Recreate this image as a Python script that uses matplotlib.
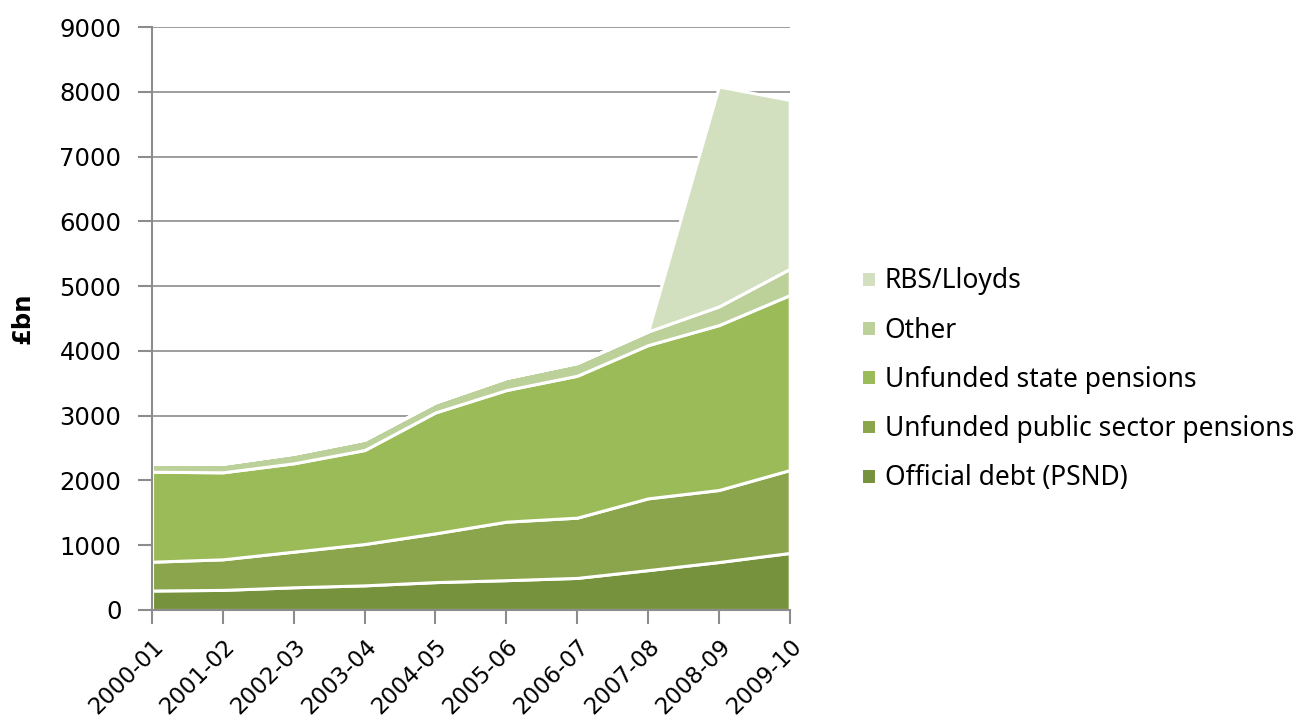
import matplotlib.pyplot as plt
import numpy as np

# Años fiscales
years = ['2000-01', '2001-02', '2002-03', '2003-04', '2004-05',
         '2005-06', '2006-07', '2007-08', '2008-09', '2009-10']

# Series (£bn), capa por capa
psnd = [300, 310, 350, 380, 430, 460, 495, 615, 740, 880]
public_pensions = [445, 472, 550, 638, 753, 903, 930, 1108, 1112, 1280]
state_pensions = [1389, 1343, 1364, 1451, 1867, 2032, 2191, 2366, 2546, 2701]
other = [125, 132, 148, 160, 155, 186, 196, 210, 288, 405]
rbs_lloyds = [0, 0, 0, 0, 0, 0, 0, 0, 3395, 2608]

labels = ['Official debt (PSND)', 'Unfunded public sector pensions',
          'Unfunded state pensions', 'Other', 'RBS/Lloyds']
colors = ['#77923c', '#8ba54c', '#9bbb59', '#bcd09a', '#d3e0c0']

plt.rcParams['font.family'] = ['DejaVu Sans']
fs = 17.5

fig = plt.figure(figsize=(13.14, 7.24), dpi=100)
ax = fig.add_axes([0.1157, 0.1575, 0.601 - 0.1157, 0.9627 - 0.1575])

x = np.arange(len(years))
ax.stackplot(x, psnd, public_pensions, state_pensions, other, rbs_lloyds,
             colors=colors, labels=labels, edgecolor='white', linewidth=2.2,
             zorder=2)

ax.set_xlim(0, len(years) - 1)
ax.set_ylim(0, 9000)
ax.set_yticks(np.arange(0, 9001, 1000))
ax.set_xticks(x)
ax.set_xticklabels(years, rotation=45, ha='right', rotation_mode='anchor')

ax.grid(axis='y', color='#8c8c8c', linewidth=1.2, zorder=0)
ax.set_axisbelow(True)

for s in ['top', 'right']:
    ax.spines[s].set_visible(False)
for s in ['left', 'bottom']:
    ax.spines[s].set_color('#8c8c8c')
    ax.spines[s].set_linewidth(1.5)
    ax.spines[s].set_zorder(3)

ax.tick_params(axis='both', colors='#8c8c8c', labelcolor='black', labelsize=fs,
               length=10, width=1.5)
ax.tick_params(axis='y', pad=12)
ax.tick_params(axis='x', pad=8, labelsize=16.5)

ax.set_ylabel('£bn', fontsize=fs, fontweight='bold', labelpad=18)

handles, lbls = ax.get_legend_handles_labels()
ax.legend(handles[::-1], lbls[::-1], loc='center left', bbox_to_anchor=(1.075, 0.395),
          frameon=False, prop={'family': 'Noto Sans', 'size': 19},
          handlelength=0.55, handleheight=0.55, handletextpad=0.33,
          labelspacing=0.80)

fig.savefig('out.png', dpi=100)
